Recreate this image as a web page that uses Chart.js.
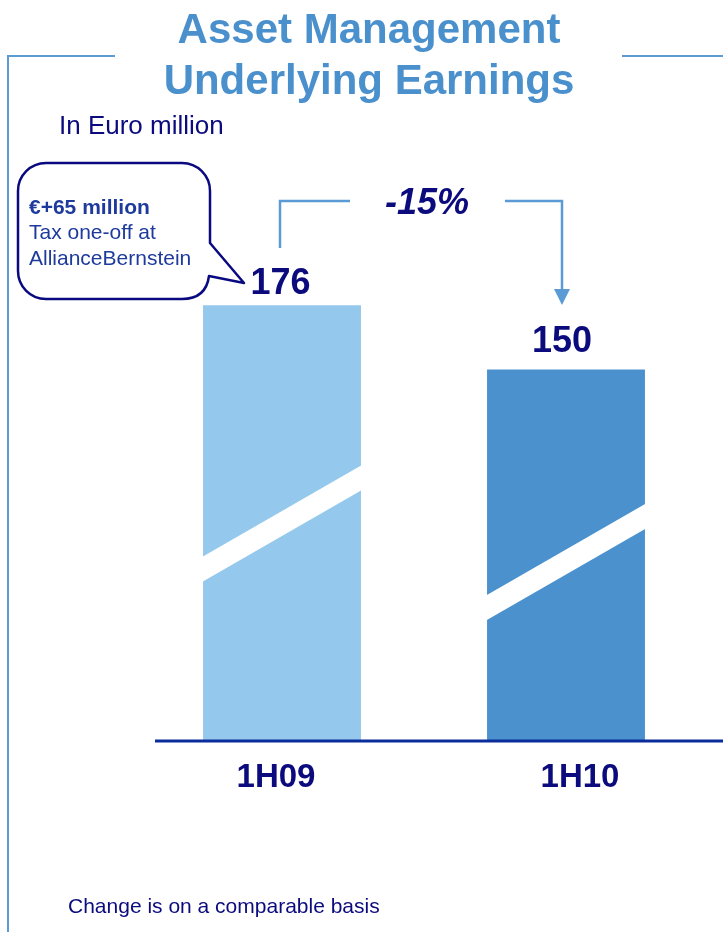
<!DOCTYPE html>
<html>
<head>
<meta charset="utf-8">
<script src="https://cdn.jsdelivr.net/npm/chart.js@4"></script>
<style>
  html, body { margin: 0; padding: 0; background: #ffffff; }
  #wrap { width: 723px; height: 932px; position: relative; }
</style>
</head>
<body>
<div id="wrap"><canvas id="c" width="723" height="932"></canvas></div>
<script>
// ---- data ----
const categories = ['1H09', '1H10'];
const earnings = [176, 150];
const changeLabel = '-15%';
const titleLines = ['Asset Management', 'Underlying Earnings'];
const unitLabel = 'In Euro million';
const calloutLines = ['€+65 million', 'Tax one-off at', 'AllianceBernstein'];
const footnote = 'Change is on a comparable basis';

// ---- styles ----
const FONT = '"Liberation Sans", Arial, Helvetica, sans-serif';
const barColors = ['#94c8ec', '#4b91cd'];
const navy = '#0b0b7e';
const calloutBlue = '#1d3a9c';
const frameBlue = '#5b9bd5';
const titleBlue = '#4a90cc';
const axisBlue = '#0b2d9b';
const breakAt = [69, 53.4];       // y position (scale units) of the break band at the bar's left edge
const breakRise = 91;             // px rise of the band across the bar
const breakThick = 25;            // px vertical thickness of the band
const valueGap = [11, 18];        // px between bar top and value baseline
const valueDx = [-1.5, -4];
const catDx = [-6, 14];

const overlay = {
  id: 'overlay',
  afterDatasetsDraw(chart) {
    const ctx = chart.ctx;
    const meta = chart.getDatasetMeta(0);
    const y = chart.scales.y;
    const bars = meta.data;

    // break bands
    ctx.save();
    ctx.fillStyle = '#ffffff';
    bars.forEach((b, i) => {
      const x0 = b.x - b.width / 2 - 1, x1 = b.x + b.width / 2 + 1;
      const yl = y.getPixelForValue(breakAt[i]);
      const yr = yl - breakRise * (x1 - x0) / b.width;
      ctx.beginPath();
      ctx.moveTo(x0, yl - breakThick / 2);
      ctx.lineTo(x1, yr - breakThick / 2);
      ctx.lineTo(x1, yr + breakThick / 2);
      ctx.lineTo(x0, yl + breakThick / 2);
      ctx.closePath();
      ctx.fill();
    });
    ctx.restore();

    // axis line
    const base = y.getPixelForValue(0);
    ctx.save();
    ctx.strokeStyle = axisBlue;
    ctx.lineWidth = 3;
    ctx.beginPath();
    ctx.moveTo(155, base + 1);
    ctx.lineTo(723, base + 1);
    ctx.stroke();
    ctx.restore();

    // value labels
    ctx.save();
    ctx.fillStyle = navy;
    ctx.font = 'bold 36px ' + FONT;
    ctx.textAlign = 'center';
    ctx.textBaseline = 'alphabetic';
    bars.forEach((b, i) => {
      ctx.fillText(String(earnings[i]), b.x + valueDx[i], b.y - valueGap[i]);
    });
    // category labels
    ctx.font = 'bold 33px ' + FONT;
    bars.forEach((b, i) => {
      ctx.fillText(categories[i], b.x + catDx[i], 787);
    });
    ctx.restore();

    // change arrow
    const xl = bars[0].x - 2, xr = bars[1].x - 4;
    ctx.save();
    ctx.strokeStyle = frameBlue;
    ctx.fillStyle = frameBlue;
    ctx.lineWidth = 2.5;
    ctx.beginPath();
    ctx.moveTo(xl, 248); ctx.lineTo(xl, 201); ctx.lineTo(350, 201);
    ctx.stroke();
    ctx.beginPath();
    ctx.moveTo(505, 201); ctx.lineTo(xr, 201); ctx.lineTo(xr, 291);
    ctx.stroke();
    ctx.beginPath();
    ctx.moveTo(xr - 8, 289); ctx.lineTo(xr + 8, 289); ctx.lineTo(xr, 305);
    ctx.closePath();
    ctx.fill();
    ctx.fillStyle = navy;
    ctx.font = 'italic bold 36px ' + FONT;
    ctx.textAlign = 'center';
    ctx.fillText(changeLabel, 427, 214);
    ctx.restore();
  },
  afterDraw(chart) {
    const ctx = chart.ctx;
    ctx.save();
    // frame
    ctx.strokeStyle = frameBlue;
    ctx.lineWidth = 2;
    ctx.beginPath();
    ctx.moveTo(115, 56); ctx.lineTo(8, 56); ctx.lineTo(8, 932);
    ctx.moveTo(622, 56); ctx.lineTo(723, 56);
    ctx.stroke();

    // title
    ctx.fillStyle = titleBlue;
    ctx.font = 'bold 42px ' + FONT;
    ctx.textAlign = 'center';
    ctx.fillText(titleLines[0], 369, 43);
    ctx.fillText(titleLines[1], 369, 94);

    // unit
    ctx.fillStyle = navy;
    ctx.textAlign = 'left';
    ctx.font = '26px ' + FONT;
    ctx.fillText(unitLabel, 59, 134);

    // footnote
    ctx.font = '21px ' + FONT;
    ctx.fillText(footnote, 68, 913);

    // callout bubble
    const L = 18, T = 163, R = 210, B = 299, r = 28;
    ctx.beginPath();
    ctx.moveTo(L + r, T);
    ctx.lineTo(R - r, T);
    ctx.arcTo(R, T, R, T + r, r);
    ctx.lineTo(R, 243);
    ctx.lineTo(244, 283);
    ctx.lineTo(209, 276);
    ctx.quadraticCurveTo(206, B, R - r, B);
    ctx.lineTo(L + r, B);
    ctx.arcTo(L, B, L, B - r, r);
    ctx.lineTo(L, T + r);
    ctx.arcTo(L, T, L + r, T, r);
    ctx.closePath();
    ctx.fillStyle = '#ffffff';
    ctx.fill();
    ctx.strokeStyle = '#0a0a80';
    ctx.lineWidth = 2.5;
    ctx.lineJoin = 'round';
    ctx.stroke();

    ctx.fillStyle = calloutBlue;
    ctx.font = 'bold 21px ' + FONT;
    ctx.fillText(calloutLines[0], 29, 214);
    ctx.font = '21px ' + FONT;
    ctx.fillText(calloutLines[1], 29, 239);
    ctx.fillText(calloutLines[2], 29, 265);
    ctx.restore();
  }
};

new Chart(document.getElementById('c'), {
  type: 'bar',
  data: {
    labels: categories,
    datasets: [{
      data: earnings,
      backgroundColor: barColors,
      borderWidth: 0,
      barPercentage: 0.556,
      categoryPercentage: 1.0
    }]
  },
  options: {
    responsive: false,
    animation: false,
    devicePixelRatio: 1,
    layout: { padding: { left: 140, right: 15, top: 246, bottom: 192 } },
    plugins: { legend: { display: false }, tooltip: { enabled: false }, title: { display: false } },
    scales: {
      x: { display: false },
      y: { display: false, min: 0, max: 200 }
    }
  },
  plugins: [overlay]
});
</script>
</body>
</html>
